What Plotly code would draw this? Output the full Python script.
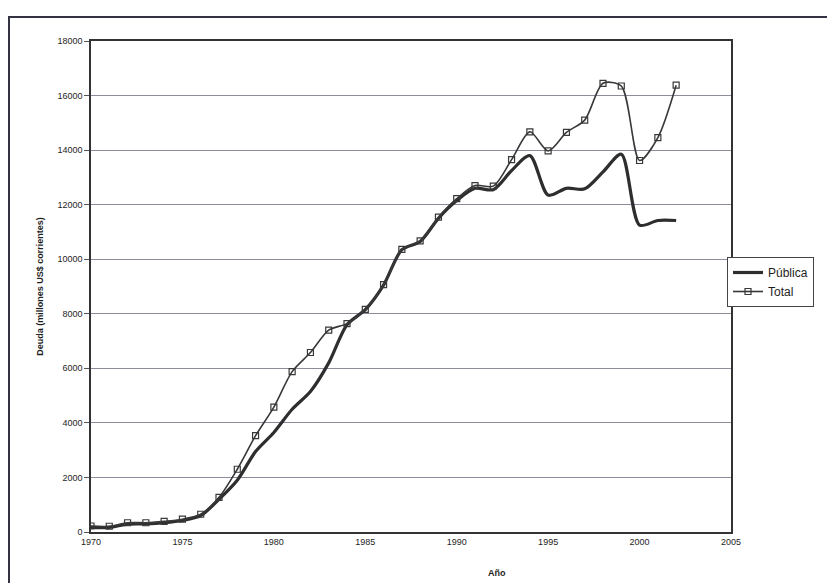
import plotly.graph_objects as go

years = list(range(1970, 2003))

total = [220, 210, 340, 340, 390, 470, 650, 1270, 2300, 3530,
         4580, 5880, 6580, 7400, 7640, 8160, 9070, 10360, 10670, 11540,
         12220, 12700, 12680, 13650, 14670, 13970, 14650, 15100, 16450, 16350,
         13620, 14460, 16380]

publica = [170, 170, 290, 300, 340, 420, 600, 1200, 1900, 2950,
           3650, 4500, 5150, 6200, 7600, 8150, 9050, 10350, 10650, 11500,
           12150, 12600, 12550, 13250, 13800, 12350, 12600, 12580, 13200, 13850,
           11250, 11420, 11420]

x_ticks = [1970, 1975, 1980, 1985, 1990, 1995, 2000, 2005]
y_ticks = list(range(0, 18001, 2000))

FONT = "Liberation Sans, Arial, sans-serif"

# page body has an 8px margin; figure coordinates = screen coordinates - 8
W, H = 827, 575
L, R, T, B = 83, 104, 33, 51
PW, PH = W - L - R, H - T - B


def px_x(sx):
    return (sx - 8 - L) / PW


def px_y(sy):
    return (H - B - (sy - 8)) / PH


fig = go.Figure()
fig.add_trace(go.Scatter(
    x=years, y=publica, name="Pública", mode="lines",
    line=dict(color="#2e2e2e", width=3.2, shape="spline", smoothing=0.8),
))
fig.add_trace(go.Scatter(
    x=years, y=total, name="Total", mode="lines+markers",
    line=dict(color="#383838", width=1.6, shape="spline", smoothing=0.8),
    marker=dict(symbol="square-open", size=6, color="#383838", line=dict(width=1.2)),
))

fig.update_layout(
    width=W, height=H,
    margin=dict(l=L, r=R, t=T, b=B),
    paper_bgcolor="white", plot_bgcolor="white",
    font=dict(family=FONT, size=9, color="#1e1e1e"),
    showlegend=True,
    legend=dict(
        x=px_x(727), y=px_y(257), xanchor="left", yanchor="top",
        bgcolor="white", bordercolor="#444444", borderwidth=1,
        font=dict(family=FONT, size=12, color="#1e1e1e"),
        tracegroupgap=0, itemwidth=30,
    ),
    xaxis=dict(
        range=[1970, 2005], tickvals=x_ticks, ticktext=[str(t) for t in x_ticks],
        showgrid=False, zeroline=False,
        showline=True, linecolor="#333333", linewidth=1.5, mirror=True,
        ticks="", tickfont=dict(family=FONT, size=9, color="#1e1e1e"),
    ),
    yaxis=dict(
        range=[0, 18000], tickvals=y_ticks, ticktext=[str(t) for t in y_ticks],
        showgrid=True, gridcolor="#8c8c9c", gridwidth=1, zeroline=False,
        showline=True, linecolor="#333333", linewidth=1.5, mirror=True,
        ticks="outside", ticklen=5, tickcolor="#555555",
        tickfont=dict(family=FONT, size=9, color="#1e1e1e"),
        title=dict(text="<b>Deuda (millones US$ corrientes)</b>",
                   font=dict(family=FONT, size=9, color="#1e1e1e"), standoff=12),
    ),
    shapes=[
        dict(type="rect", xref="paper", yref="paper",
             x0=px_x(9), x1=px_x(850),
             y0=px_y(600), y1=px_y(17),
             line=dict(color="#333344", width=2), fillcolor="rgba(0,0,0,0)", layer="below"),
    ],
    annotations=[
        dict(text="<b>Año</b>", xref="paper", yref="paper",
             x=px_x(497), y=px_y(573), xanchor="center", yanchor="middle",
             showarrow=False, font=dict(family=FONT, size=9, color="#1e1e1e")),
    ],
)

fig.write_html("out.html")
